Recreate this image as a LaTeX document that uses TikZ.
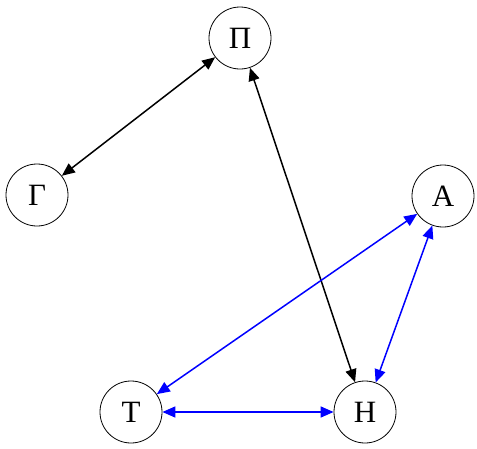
\documentclass[tikz,border=0pt]{standalone}
\usepackage{fontspec}
\setmainfont{Liberation Serif}
\usetikzlibrary{arrows.meta}
\begin{document}
\begin{tikzpicture}[x=1pt,y=-1pt,
  vnode/.style={circle,draw,line width=0.8pt,minimum size=62pt,inner sep=0pt,font=\fontsize{31}{31}\selectfont},
  link/.style={line width=1.5pt,{Triangle[length=13pt,width=11pt]}-{Triangle[length=13pt,width=11pt]}},
  bluelink/.style={link,blue,draw=blue}]
\useasboundingbox (0,0) rectangle (477,448);
\node[vnode] (P) at (240,38) {Π};
\node[vnode] (G) at (37,195) {Γ};
\node[vnode] (A) at (443,196) {Α};
\node[vnode] (T) at (131,412) {Τ};
\node[vnode] (H) at (365,412) {Η};
\draw[link] (P) -- (G);
\draw[link] (P) -- (H);
\draw[bluelink] (A) -- (T);
\draw[bluelink] (A) -- (H);
\draw[bluelink] (T) -- (H);
\end{tikzpicture}
\end{document}
